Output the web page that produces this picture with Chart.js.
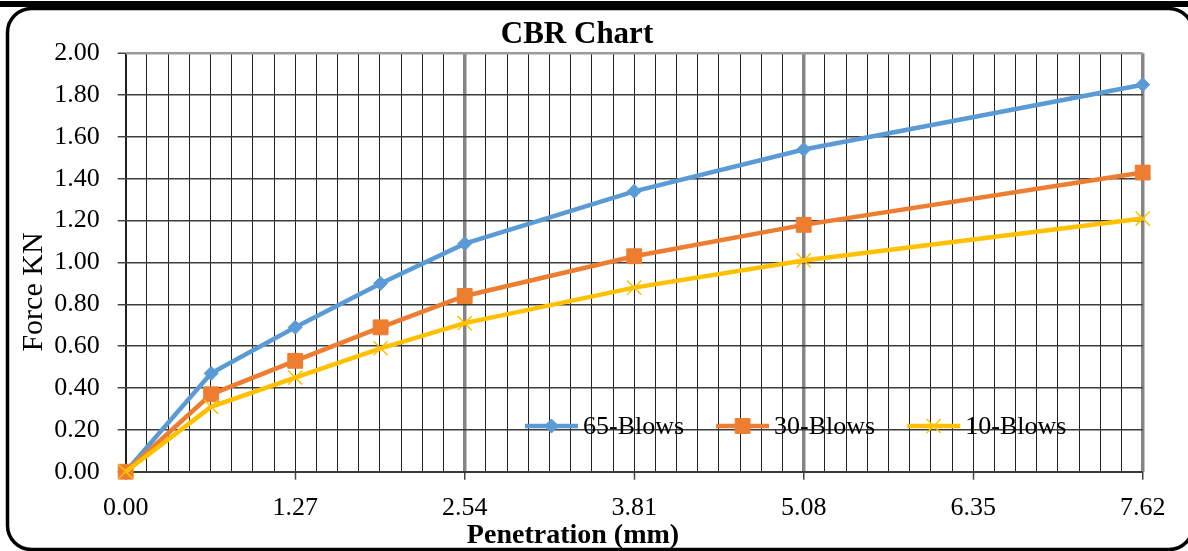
<!DOCTYPE html>
<html>
<head>
<meta charset="utf-8">
<title>CBR Chart</title>
<script src="https://cdn.jsdelivr.net/npm/chart.js@4.4.1/dist/chart.umd.min.js"></script>
<style>
  html, body { margin: 0; padding: 0; background: #fff; overflow: hidden; }
  canvas { display: block; }
</style>
</head>
<body>
<canvas id="cbr" width="1188" height="551"></canvas>
<script>
// Penetration readings (mm) and the load (kN) for each compaction effort
const penetration = [0, 0.64, 1.27, 1.91, 2.54, 3.81, 5.08, 7.62];
const blows65 = [0, 0.47, 0.69, 0.90, 1.09, 1.34, 1.54, 1.85];
const blows30 = [0, 0.37, 0.53, 0.69, 0.84, 1.03, 1.18, 1.43];
const blows10 = [0, 0.31, 0.45, 0.59, 0.71, 0.88, 1.01, 1.21];

const seriesNames = ['65-Blows', '30-Blows', '10-Blows'];
const xTickLabels = ['0.00', '1.27', '2.54', '3.81', '5.08', '6.35', '7.62'];
const yTickLabels = ['0.00', '0.20', '0.40', '0.60', '0.80', '1.00', '1.20', '1.40', '1.60', '1.80', '2.00'];
const minorPerLabel = 8;

const chartTitle = 'CBR Chart';
const xTitle = 'Penetration (mm)';
const yTitle = 'Force KN';

const SERIF = '"Liberation Serif", "Times New Roman", "DejaVu Serif", serif';

function toPoints(values) {
  return values.map((v, i) => ({ x: penetration[i], y: v }));
}

const styles = [
  { color: '#5B9BD5', pointStyle: 'rectRot', radius: 7, pointBorder: 1, line: 4.5 },
  { color: '#ED7D31', pointStyle: 'rect', radius: 10.5, pointBorder: 1, line: 4.5 },
  { color: '#FFC000', pointStyle: 'crossRot', radius: 10, pointBorder: 1.5, line: 4.5 }
];
const seriesValues = [blows65, blows30, blows10];

const datasets = seriesValues.map((vals, i) => ({
  label: seriesNames[i],
  data: toPoints(vals),
  borderColor: styles[i].color,
  backgroundColor: styles[i].color,
  borderWidth: styles[i].line,
  pointStyle: styles[i].pointStyle,
  pointRadius: styles[i].radius,
  pointBorderWidth: styles[i].pointBorder,
  pointBackgroundColor: styles[i].color,
  pointBorderColor: styles[i].color,
  tension: 0,
  clip: false,
  order: seriesValues.length - i
}));

function drawMarker(ctx, st, x, y) {
  ctx.save();
  ctx.fillStyle = st.color;
  ctx.strokeStyle = st.color;
  ctx.lineWidth = st.pointBorder;
  Chart.helpers.drawPoint(ctx, { pointStyle: st.pointStyle, radius: st.radius, borderWidth: st.pointBorder, rotation: 0 }, x, y);
  ctx.restore();
}

// Rounded frame, heading and axis titles
const framePlugin = {
  id: 'frame',
  beforeDraw(chart) {
    const c = chart.ctx;
    c.save();
    c.fillStyle = '#fff';
    c.fillRect(0, 0, chart.width, chart.height);
    c.fillStyle = '#000';
    c.fillRect(0, 1, chart.width, 6);
    const x0 = 7.5, y0 = 8.5, x1 = 1193, y1 = 549.5, r = 24;
    c.beginPath();
    c.moveTo(x0 + r, y0);
    c.lineTo(x1 - r, y0);
    c.arcTo(x1, y0, x1, y0 + r, r);
    c.lineTo(x1, y1 - r);
    c.arcTo(x1, y1, x1 - r, y1, r);
    c.lineTo(x0 + r, y1);
    c.arcTo(x0, y1, x0, y1 - r, r);
    c.lineTo(x0, y0 + r);
    c.arcTo(x0, y0, x0 + r, y0, r);
    c.closePath();
    c.lineWidth = 3.5;
    c.strokeStyle = '#000';
    c.stroke();
    c.restore();
  },
  afterDraw(chart) {
    const c = chart.ctx;
    c.save();
    c.fillStyle = '#000';
    c.textAlign = 'center';
    c.textBaseline = 'alphabetic';
    c.font = 'bold 31px ' + SERIF;
    c.fillText(chartTitle, 577, 43);
    c.font = 'bold 28px ' + SERIF;
    c.fillText(xTitle, 573, 543);
    c.translate(42, 292);
    c.rotate(-Math.PI / 2);
    c.font = '30px ' + SERIF;
    c.fillText(yTitle, 0, 0);
    c.restore();
  }
};

// Legend row drawn inside the plot, each entry a line with its marker
const legendPlugin = {
  id: 'insideLegend',
  afterDatasetsDraw(chart) {
    const c = chart.ctx;
    c.save();
    c.font = '26px ' + SERIF;
    c.textBaseline = 'alphabetic';
    c.textAlign = 'left';
    let x = 525;
    const y = 426;
    seriesNames.forEach((name, i) => {
      const st = styles[i];
      c.strokeStyle = st.color;
      c.lineWidth = st.line;
      c.beginPath();
      c.moveTo(x, y);
      c.lineTo(x + 53, y);
      c.stroke();
      drawMarker(c, st, x + 26.5, y);
      c.fillStyle = '#000';
      const tx = x + 58;
      c.fillText(name, tx, y + 8);
      x = tx + c.measureText(name).width + 32;
    });
    c.restore();
  }
};

const xMax = parseFloat(xTickLabels[xTickLabels.length - 1]);
const xCount = (xTickLabels.length - 1) * minorPerLabel;

new Chart(document.getElementById('cbr'), {
  type: 'line',
  data: { datasets },
  plugins: [framePlugin, legendPlugin],
  options: {
    responsive: false,
    animation: false,
    devicePixelRatio: 1,
    layout: { padding: { top: 53.3, right: 45.3, left: 0, bottom: 0 } },
    plugins: {
      legend: { display: false },
      title: { display: false },
      tooltip: { enabled: false }
    },
    scales: {
      x: {
        type: 'linear',
        min: 0,
        max: xMax,
        afterBuildTicks(scale) {
          const t = [];
          for (let i = 0; i <= xCount; i++) t.push({ value: xMax * i / xCount });
          scale.ticks = t;
        },
        afterFit(scale) { scale.height = 79.3; },
        border: { display: false },
        grid: {
          drawOnChartArea: true,
          tickLength: 8,
          tickWidth: 1.5,
          color(ctx) {
            const i = ctx.index;
            if (i === 0) return '#202020';
            if (i % (minorPerLabel * 2) === 0) return '#858585';
            return '#222';
          },
          lineWidth(ctx) {
            const i = ctx.index;
            if (i === 0) return 2;
            if (i % (minorPerLabel * 2) === 0) return 3.5;
            return 1;
          },
          tickColor(ctx) {
            return ctx.index % minorPerLabel === 0 ? '#444' : 'rgba(0,0,0,0)';
          }
        },
        ticks: {
          autoSkip: false,
          maxRotation: 0,
          padding: 13,
          color: '#000',
          font: { family: SERIF, size: 26 },
          callback(value, index) {
            return index % minorPerLabel === 0 ? xTickLabels[index / minorPerLabel] : '';
          }
        }
      },
      y: {
        type: 'linear',
        min: 0,
        max: 2,
        afterFit(scale) { scale.width = 125.7; },
        border: { display: false },
        grid: {
          tickLength: 8,
          tickWidth: 1.5,
          color(ctx) {
            const last = yTickLabels.length - 1;
            if (ctx.index === last) return '#9a9a9a';
            if (ctx.index === 0) return '#3a3a3a';
            return '#3c3c3c';
          },
          lineWidth(ctx) {
            const last = yTickLabels.length - 1;
            if (ctx.index === last) return 2.5;
            if (ctx.index === 0) return 2;
            return 1.5;
          },
          tickColor: '#444'
        },
        ticks: {
          stepSize: 0.2,
          padding: 18,
          color: '#000',
          font: { family: SERIF, size: 26 },
          callback(value, index) { return yTickLabels[index]; }
        }
      }
    }
  }
});
</script>
</body>
</html>
